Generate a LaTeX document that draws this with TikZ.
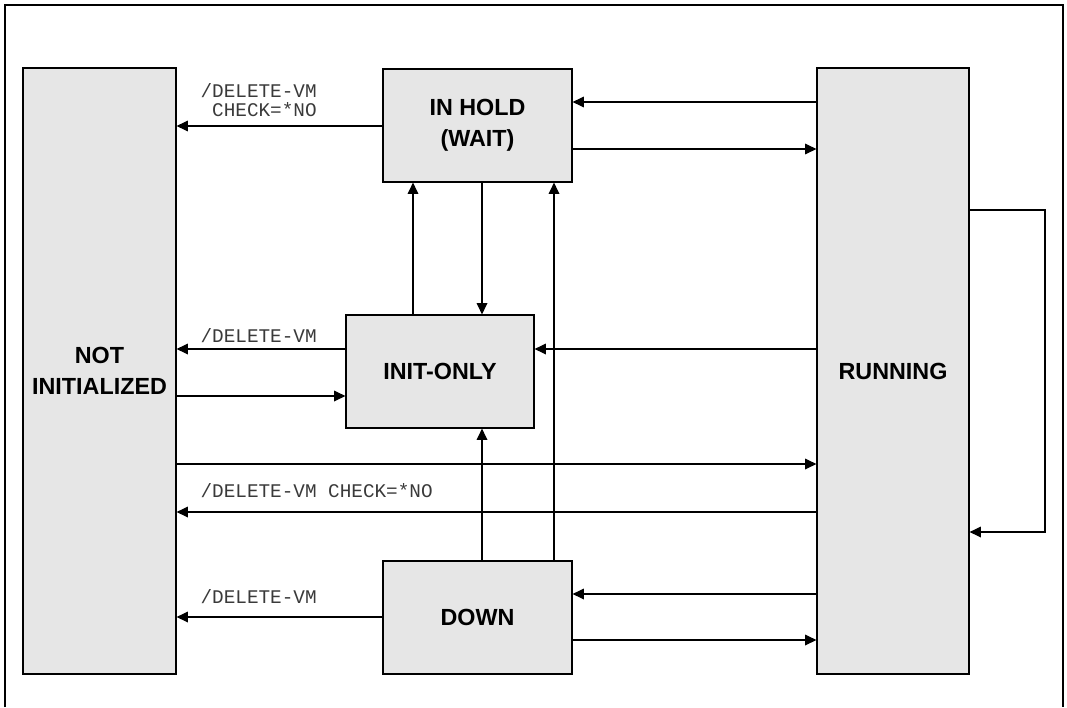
\documentclass[tikz,border=0pt]{standalone}
\usepackage{fontspec}
\setmainfont{Liberation Sans}
\setmonofont{Liberation Mono}
\usetikzlibrary{arrows.meta}
\definecolor{boxgray}{HTML}{E6E6E6}
\definecolor{labelgray}{HTML}{3A3A3A}
\begin{document}
\begin{tikzpicture}[x=0.75pt,y=-0.75pt, line width=0.9pt,
 state/.style={draw, fill=boxgray, inner sep=0pt, align=center, font=\bfseries\fontsize{17.5}{23}\selectfont},
 arr/.style={-{Triangle[length=8.5pt,width=8pt]}},
 lbl/.style={inner sep=0pt, anchor=west, align=left, text=labelgray, font=\ttfamily\fontsize{14.5}{14.5}\selectfont}]
\useasboundingbox (0,0) rectangle (1067,707);
\draw (5,707) -- (5,5) -- (1063,5) -- (1063,707);
\node[state, minimum width=114.75pt, minimum height=454.5pt] (ni) at (99.5,371) {NOT\\INITIALIZED};
\node[state, minimum width=141.75pt, minimum height=84.75pt] (hold) at (477.5,125.5) {IN HOLD\\(WAIT)};
\node[state, minimum width=141pt, minimum height=84.75pt] (init) at (440,371.5) {INIT-ONLY};
\node[state, minimum width=141.75pt, minimum height=84.75pt] (down) at (477.5,617.5) {DOWN};
\node[state, minimum width=114pt, minimum height=454.5pt] (run) at (893,371) {RUNNING};
\draw[arr] (run.west |- 0,102) -- (hold.east |- 0,102);
\draw[arr] (hold.east |- 0,149) -- (run.west |- 0,149);
\draw[arr] (hold.west |- 0,126) -- (ni.east |- 0,126);
\draw[arr] (init.north -| 413,0) -- (hold.south -| 413,0);
\draw[arr] (hold.south -| 482,0) -- (init.north -| 482,0);
\draw[arr] (down.north -| 554,0) -- (hold.south -| 554,0);
\draw[arr] (down.north -| 482,0) -- (init.south -| 482,0);
\draw[arr] (init.west |- 0,349) -- (ni.east |- 0,349);
\draw[arr] (ni.east |- 0,396) -- (init.west |- 0,396);
\draw[arr] (run.west |- 0,349) -- (init.east |- 0,349);
\draw[arr] (ni.east |- 0,464) -- (run.west |- 0,464);
\draw[arr] (run.west |- 0,512) -- (ni.east |- 0,512);
\draw[arr] (run.west |- 0,594) -- (down.east |- 0,594);
\draw[arr] (down.east |- 0,640) -- (run.west |- 0,640);
\draw[arr] (down.west |- 0,617) -- (ni.east |- 0,617);
\coordinate (lp1) at (1045,210);
\coordinate (lp2) at (1045,532);
\draw[arr] (run.east |- lp1) -- (lp1) -- (lp2) -- (run.east |- lp2);
\node[lbl] (l1) at (200,100) {/DELETE-VM\\\phantom{/}CHECK=*NO};
\node[lbl] (l2) at (200,336) {/DELETE-VM};
\node[lbl] (l3) at (200,490.5) {/DELETE-VM CHECK=*NO};
\node[lbl] (l4) at (200,597) {/DELETE-VM};
\end{tikzpicture}
\end{document}
